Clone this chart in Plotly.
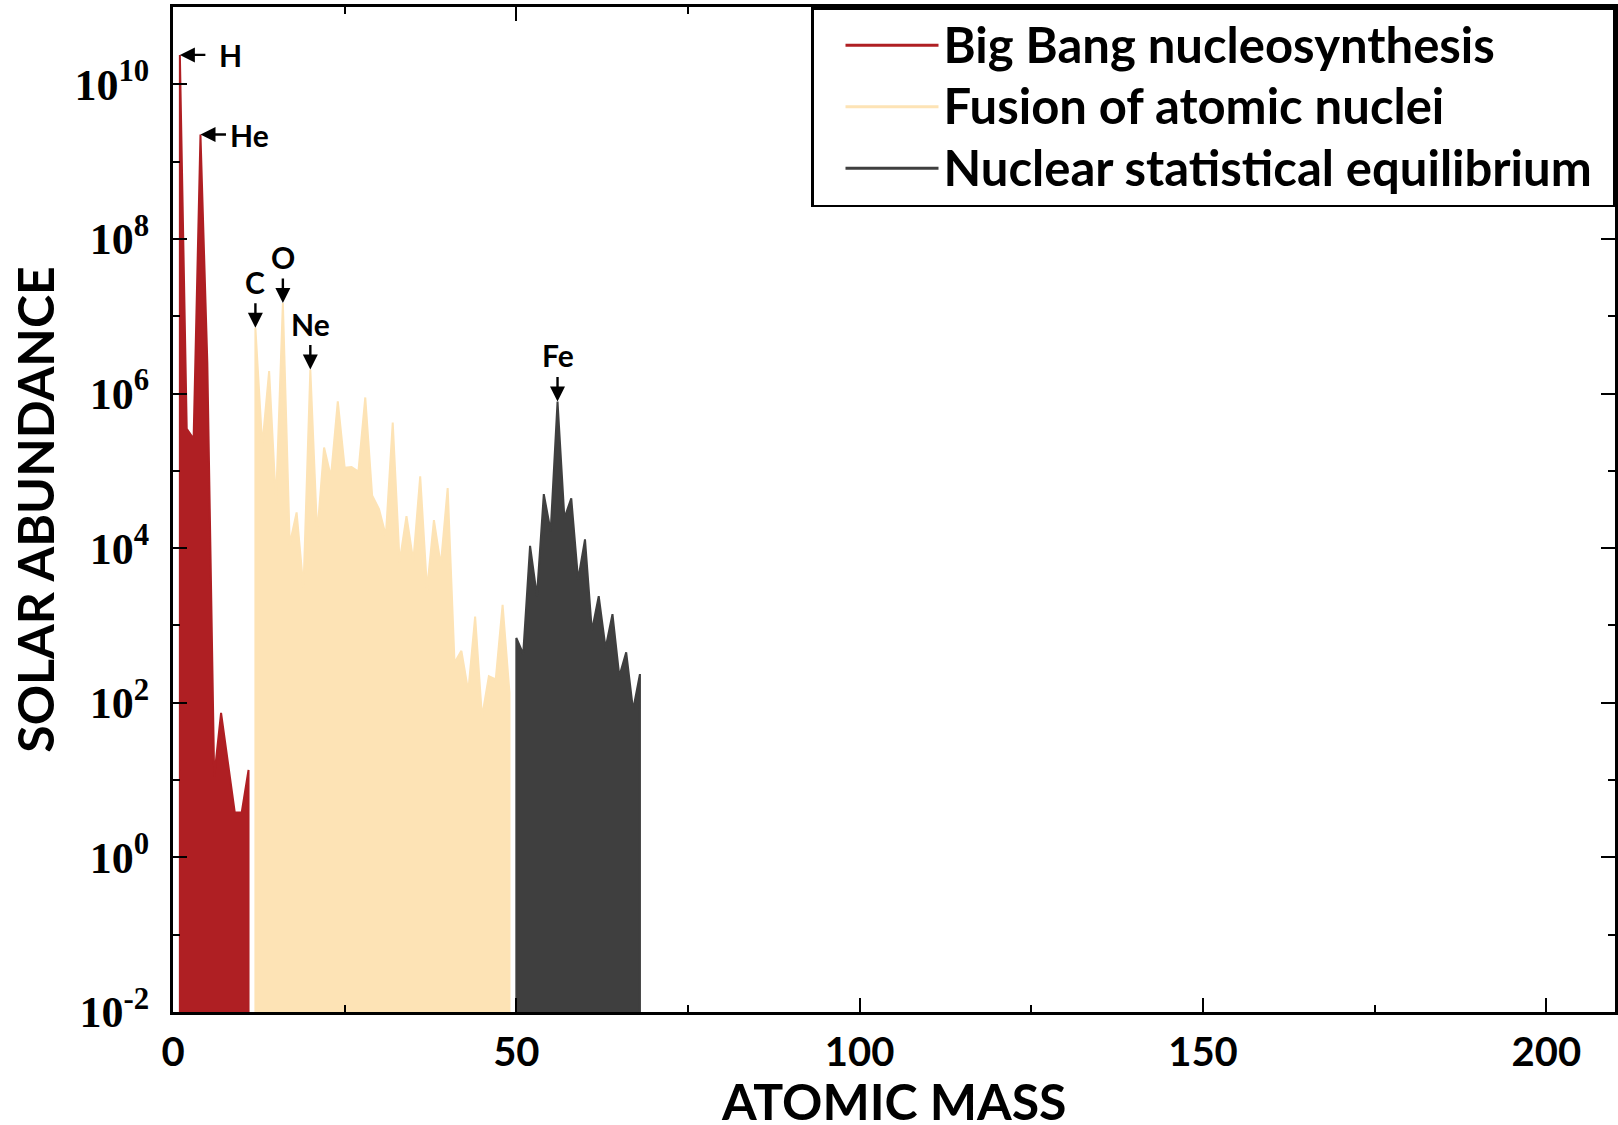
import math
import plotly.graph_objects as go

# ---------------- data ----------------
# Big Bang nucleosynthesis
bbn_mass = [1, 2, 3, 4, 5, 6, 7, 9, 10, 11]
bbn_abund = [2.4e10, 3.5e5, 2.6e5, 2.24e9, 2.5e6, 11, 74, 3.8, 3.8, 13.5]

# Fusion of atomic nuclei
fusion_mass = [12, 13, 14, 15, 16, 17, 18, 19, 20, 21, 22, 23, 24, 25, 26, 27, 28, 29, 30,
               31, 32, 33, 34, 35, 36, 37, 38, 39, 40, 41, 42, 43, 44, 45, 46, 47, 48, 49]
fusion_abund = [7.1e6, 2.1e5, 1.95e6, 3.8e4, 1.48e7, 1.12e4, 2.9e4, 3.0e3, 2.04e6, 1.5e4,
                2.0e5, 8.3e4, 7.9e5, 1.1e5, 1.12e5, 9.8e4, 8.9e5, 4.8e4, 3.2e4, 1.45e4,
                4.2e5, 6.6e3, 2.6e4, 6.8e3, 8.5e4, 2.9e3, 2.3e4, 6.0e3, 6.0e4, 330,
                470, 140, 1.3e3, 65, 220, 200, 1.85e3, 135]

# Nuclear statistical equilibrium
nse_mass = [50, 51, 52, 53, 54, 55, 56, 57, 58, 59, 60, 61, 62, 63, 64, 65, 66, 67, 68]
nse_abund = [690, 430, 1.07e4, 2.4e3, 5.0e4, 1.66e4, 7.9e5, 2.45e4, 4.4e4, 3.9e3,
             1.3e4, 850, 2.4e3, 510, 1.4e3, 220, 450, 81, 235]

series_names = ["Big Bang nucleosynthesis", "Fusion of atomic nuclei",
                "Nuclear statistical equilibrium"]

# labelled peaks: (label, series index, mass number)
peak_labels = [("H", 0, 1), ("He", 0, 4), ("C", 1, 12), ("O", 1, 16), ("Ne", 1, 20), ("Fe", 2, 56)]

# axis ticks and titles
x_title = "ATOMIC MASS"
y_title = "SOLAR ABUNDANCE"
x_tickvals = [0, 50, 100, 150, 200]
x_ticktext = ["0", "50", "100", "150", "200"]
x_minor = [25, 75, 125, 175]
y_tickvals = [1e-2, 1e0, 1e2, 1e4, 1e6, 1e8, 1e10]
y_ticktext = ["10<sup>-2</sup>", "10<sup>0</sup>", "10<sup>2</sup>", "10<sup>4</sup>",
              "10<sup>6</sup>", "10<sup>8</sup>", "10<sup>10</sup>"]
y_minor = [1e-1, 1e1, 1e3, 1e5, 1e7, 1e9]

# ---------------- style ----------------
COLORS = ["#AF1F23", "#FDE3B5", "#3F3F3F"]
FLOOR = 1e-3  # baseline below the axis bottom for the filled areas
SANS = "Lato, 'Open Sans', sans-serif"
SERIF = "'Liberation Serif', 'DejaVu Serif', serif"
LEGEND_PAD = "\u00a0\u200a"  # right-hand padding inside the legend box

fig = go.Figure()

all_series = [(bbn_mass, bbn_abund), (fusion_mass, fusion_abund), (nse_mass, nse_abund)]
for (xs, ys), col in zip(all_series, COLORS):
    fig.add_trace(go.Scatter(
        x=[xs[0]] + xs + [xs[-1]],
        y=[FLOOR] + ys + [FLOOR],
        mode="lines", fill="toself", fillcolor=col,
        line=dict(color=col, width=2),
        showlegend=False, hoverinfo="skip",
    ))

for name, col in zip(series_names, COLORS):
    fig.add_trace(go.Scatter(
        x=[None], y=[None], mode="lines",
        name='<span style="font-size:49px">' + name + LEGEND_PAD + "</span>",
        line=dict(color=col, width=3)))

LABEL_FONT = dict(family=SANS, size=30, color="black", weight="bold")
annotations = []
for label, si, mass in peak_labels:
    xs, ys = all_series[si]
    yv = math.log10(ys[xs.index(mass)])
    arrow = dict(x=mass, y=yv, xref="x", yref="y", text="", showarrow=True,
                 arrowhead=2, arrowsize=1.25, arrowwidth=2.4, arrowcolor="black", standoff=0)
    if label in ("H", "He"):
        arrow.update(ax=27, ay=0)
        annotations.append(arrow)
        annotations.append(dict(x=mass, y=yv, xref="x", yref="y", text=label,
                                showarrow=False, xanchor="left", yanchor="middle",
                                xshift=37 if label == "H" else 28, font=LABEL_FONT))
    else:
        arrow.update(ax=0, ay=-26)
        annotations.append(arrow)
        annotations.append(dict(x=mass, y=yv, xref="x", yref="y", text=label,
                                showarrow=False, xanchor="center", yanchor="middle",
                                yshift=46, font=LABEL_FONT))

# x-axis title (placed as text below the tick labels, at the page's bottom edge)
annotations.append(dict(x=0.5, y=0, xref="paper", yref="paper", text=x_title,
                        showarrow=False, xanchor="center", yanchor="top", yshift=-57,
                        font=dict(family=SANS, size=50, color="black", weight="bold")))

fig.update_layout(
    width=1618, height=1125,
    margin=dict(l=173, r=3, t=7, b=113, autoexpand=False),
    paper_bgcolor="white", plot_bgcolor="white",
    showlegend=True,
    legend=dict(x=1, y=1, xanchor="right", yanchor="top",
                bgcolor="white", bordercolor="black", borderwidth=2.5,
                font=dict(family=SANS, size=45, color="black", weight="bold"),
                itemwidth=93, indentation=27, tracegroupgap=0),
    annotations=annotations,
    xaxis=dict(
        range=[0, 210], tickvals=x_tickvals, ticktext=x_ticktext,
        ticks="inside", ticklen=14, tickwidth=2, tickcolor="black",
        minor=dict(tickvals=x_minor, ticks="inside", ticklen=7, tickwidth=2,
                   tickcolor="black", showgrid=False),
        showline=True, linecolor="black", linewidth=3, mirror="allticks",
        showgrid=False, zeroline=False, automargin=False,
        tickfont=dict(family=SANS, size=40, color="black", weight="bold"),
        ticklabelstandoff=3,
    ),
    yaxis=dict(
        type="log", range=[-2, 11], tickvals=y_tickvals, ticktext=y_ticktext,
        ticks="inside", ticklen=14, tickwidth=2, tickcolor="black",
        minor=dict(tickvals=y_minor, ticks="inside", ticklen=7, tickwidth=2,
                   tickcolor="black", showgrid=False),
        showline=True, linecolor="black", linewidth=3, mirror="allticks",
        showgrid=False, zeroline=False, automargin=False,
        tickfont=dict(family=SERIF, size=44, color="black", weight="bold"),
        ticklabelstandoff=12,
        title=dict(text=y_title, standoff=4,
                   font=dict(family=SANS, size=50, color="black", weight="bold")),
    ),
)

fig.write_html("out.html")
